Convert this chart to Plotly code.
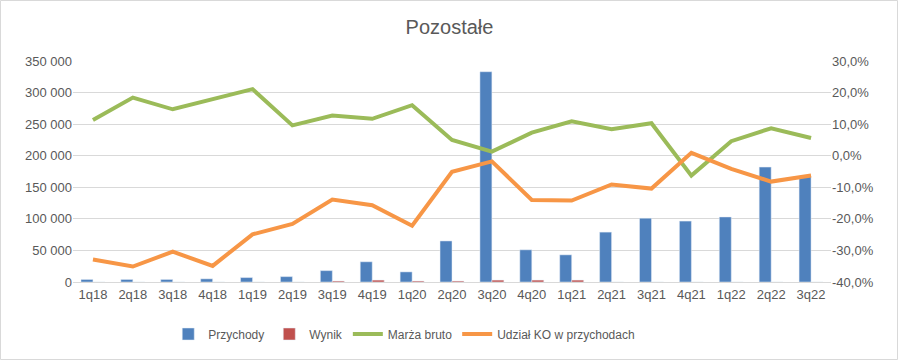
import plotly.graph_objects as go

categories = ["1q18","2q18","3q18","4q18","1q19","2q19","3q19","4q19","1q20","2q20",
              "3q20","4q20","1q21","2q21","3q21","4q21","1q22","2q22","3q22"]
przychody = [4000, 4000, 4000, 5000, 7000, 8500, 18000, 32000, 16000, 65000,
             333000, 51000, 43000, 79000, 101000, 96500, 103000, 182000, 168000]
wynik = [0, 0, 0, 0, 0, 0, 1500, 3000, 1500, 1500,
         3000, 3000, 3000, 0, 0, 0, 0, 0, 0]
marza_bruto = [11.3, 18.4, 14.7, 17.9, 21.1, 9.6, 12.7, 11.7, 16.0, 5.0,
               1.3, 7.3, 10.9, 8.4, 10.3, -6.3, 4.6, 8.7, 5.6]
udzial_ko = [-32.9, -35.1, -30.4, -34.9, -24.9, -21.6, -13.9, -15.7, -22.2, -5.1,
             -1.8, -14.0, -14.2, -9.1, -10.4, 0.9, -4.2, -8.2, -6.3]
left_ticks = [0, 50000, 100000, 150000, 200000, 250000, 300000, 350000]
left_tick_labels = ["0", "50 000", "100 000", "150 000", "200 000", "250 000", "300 000", "350 000"]
right_ticks = [-40, -30, -20, -10, 0, 10, 20, 30]
right_tick_labels = ["-40,0%", "-30,0%", "-20,0%", "-10,0%", "0,0%", "10,0%", "20,0%", "30,0%"]

FONT = "Liberation Sans"
GREY = "#595959"

fig = go.Figure()
fig.add_trace(go.Bar(x=categories, y=przychody, name="Przychody", marker_color="#4F81BD"))
fig.add_trace(go.Bar(x=categories, y=wynik, name="Wynik", marker_color="#C0504D"))
fig.add_trace(go.Scatter(x=categories, y=marza_bruto, name="Marża bruto", yaxis="y2",
                         mode="lines", line=dict(color="#9BBB59", width=4)))
fig.add_trace(go.Scatter(x=categories, y=udzial_ko, name="Udział KO w przychodach", yaxis="y2",
                         mode="lines", line=dict(color="#F79646", width=4)))

fig.update_layout(
    width=899, height=360,
    margin=dict(l=73, r=68, t=61, b=78, autoexpand=False),
    paper_bgcolor="white", plot_bgcolor="white",
    font=dict(family=FONT, size=13, color=GREY),
    title=dict(text="Pozostałe", x=0.5, xanchor="center", y=1 - 27/360, yanchor="middle",
               font=dict(family=FONT, size=20, color=GREY)),
    barmode="group", bargap=0.4, bargroupgap=0,
    showlegend=True,
    legend=dict(orientation="h", x=0.437, xanchor="center", y=-52/221, yanchor="middle",
                font=dict(family=FONT, size=12, color=GREY), traceorder="normal",
                itemwidth=30),
    xaxis=dict(showgrid=False, showline=True, linecolor="#d9d9d9", linewidth=1,
               ticks="", tickfont=dict(size=13, color=GREY)),
    yaxis=dict(range=[0, 350000], tickvals=left_ticks, ticktext=left_tick_labels,
               showgrid=True, gridcolor="#d9d9d9", gridwidth=1, zeroline=False,
               showline=False, ticks="", tickfont=dict(size=13, color=GREY)),
    yaxis2=dict(range=[-40, 30], tickvals=right_ticks, ticktext=right_tick_labels,
                overlaying="y", side="right", showgrid=False, zeroline=False,
                showline=False, ticks="", tickfont=dict(size=13, color=GREY)),
    shapes=[dict(type="rect", xref="paper", yref="paper",
                 x0=-72.5/758, x1=(758+66.5)/758, y0=-77.5/221, y1=(221+60.5)/221,
                 line=dict(color="#d9d9d9", width=1), fillcolor="rgba(0,0,0,0)", layer="below")],
)

fig.write_html("out.html", config={"displayModeBar": False},
               post_script="document.body.style.margin='0';document.body.style.overflow='hidden';")
